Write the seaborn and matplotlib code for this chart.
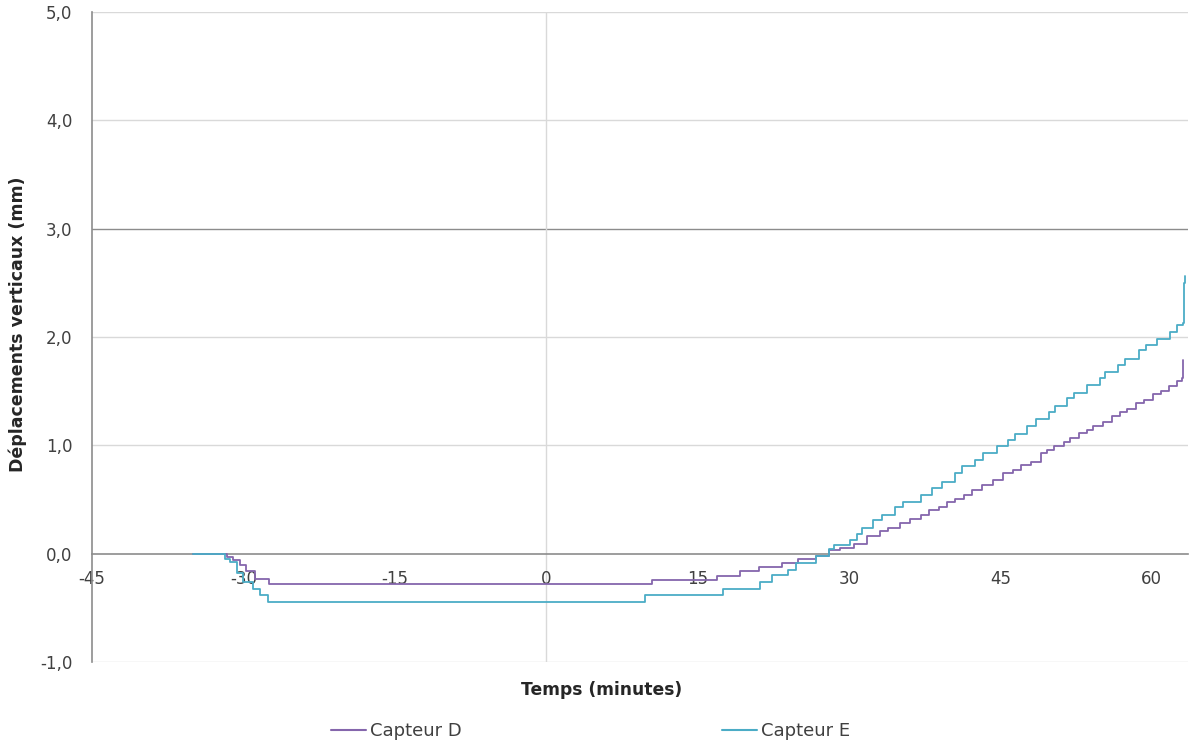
import matplotlib
matplotlib.use("Agg")
import matplotlib.pyplot as plt
from matplotlib.ticker import FuncFormatter, FixedLocator
import seaborn as sns
import pandas as pd

# ---- data ----
capteur_d_t = [-35, -31.6, -31.0, -30.3, -29.7, -28.8, -27.5, 10.5, 16.9, 19.2, 21.1, 23.4,
               25.0, 26.7, 28.0, 29.1, 30.5, 31.8, 33.1, 33.9, 35.1, 36.1, 37.1, 37.9, 38.9,
               39.7, 40.5, 41.4, 42.2, 43.2, 44.3, 45.3, 46.3, 47.1, 48.0, 49.0, 49.6, 50.3,
               51.3, 51.9, 52.8, 53.6, 54.2, 55.2, 56.1, 56.9, 57.6, 58.4, 59.2, 60.1, 60.9,
               61.7, 62.5, 63.0, 63.1]
capteur_d_v = [0.0, -0.03, -0.06, -0.10, -0.16, -0.23, -0.28, -0.245, -0.21, -0.16, -0.12, -0.085,
               -0.05, -0.02, 0.03, 0.055, 0.09, 0.16, 0.205, 0.235, 0.28, 0.32, 0.36, 0.405, 0.435,
               0.475, 0.505, 0.545, 0.59, 0.635, 0.68, 0.745, 0.775, 0.82, 0.85, 0.93, 0.96, 0.99,
               1.03, 1.07, 1.11, 1.145, 1.175, 1.22, 1.27, 1.31, 1.34, 1.39, 1.42, 1.47, 1.50,
               1.545, 1.59, 1.62, 1.79]

capteur_e_t = [-35, -31.8, -31.3, -30.6, -30.0, -29.0, -28.4, -27.6, 9.8, 17.5, 21.2, 22.4,
               24.0, 24.8, 26.7, 28.0, 28.5, 30.1, 30.8, 31.3, 32.4, 33.3, 34.6, 35.4, 37.1,
               38.2, 39.2, 40.5, 41.2, 42.5, 43.3, 44.7, 45.8, 46.5, 47.6, 48.5, 49.8, 50.4,
               51.6, 52.3, 53.6, 54.9, 55.4, 56.7, 57.4, 58.7, 59.4, 60.5, 61.8, 62.5, 63.1,
               63.2, 63.3]
capteur_e_v = [0.0, -0.05, -0.08, -0.18, -0.26, -0.33, -0.38, -0.45, -0.38, -0.325, -0.265, -0.20,
               -0.15, -0.085, -0.02, 0.045, 0.08, 0.13, 0.18, 0.24, 0.31, 0.36, 0.43, 0.48, 0.545,
               0.605, 0.665, 0.745, 0.805, 0.865, 0.93, 0.99, 1.045, 1.10, 1.175, 1.24, 1.305, 1.36,
               1.435, 1.485, 1.56, 1.62, 1.68, 1.745, 1.80, 1.88, 1.93, 1.98, 2.05, 2.11, 2.13,
               2.50, 2.56]

series_names = ["Capteur D", "Capteur E"]
x_ticks = [-45, -30, -15, 0, 15, 30, 45, 60]
y_ticks = [-1.0, 0.0, 1.0, 2.0, 3.0, 4.0, 5.0]

df = pd.concat([
    pd.DataFrame({"t": capteur_d_t, "v": capteur_d_v, "s": series_names[0]}),
    pd.DataFrame({"t": capteur_e_t, "v": capteur_e_v, "s": series_names[1]}),
], ignore_index=True)

sns.set_style("white")
plt.rcParams["font.family"] = ["DejaVu Sans"]

W, H = 1203, 744
fig = plt.figure(figsize=(W / 100, H / 100), dpi=100)
L, R, T, B = 92, 1188, 12, 662
ax = fig.add_axes([L / W, 1 - B / H, (R - L) / W, (B - T) / H])

palette = {"Capteur D": "#8566AC", "Capteur E": "#4BACC6"}

# grid
for y in [1.0, 2.0, 4.0, 5.0, -1.0]:
    ax.axhline(y, color="#D9D9D9", lw=1.0, zorder=0)
ax.axhline(3.0, color="#8C8C8C", lw=1.0, zorder=0)
ax.axvline(0, color="#D9D9D9", lw=1.0, zorder=0)

sns.lineplot(data=df, x="t", y="v", hue="s", palette=palette, estimator=None, sort=False,
             drawstyle="steps-post", lw=1.3, ax=ax, legend=False, zorder=3)

ax.set_xlim(-45, 63.6)
ax.set_ylim(-1.0, 5.0)

for side in ["top", "right"]:
    ax.spines[side].set_visible(False)
ax.spines["bottom"].set_position(("data", 0))
ax.spines["bottom"].set_color("#8C8C8C")
ax.spines["left"].set_color("#8C8C8C")
ax.spines["bottom"].set_linewidth(1.2)
ax.spines["left"].set_linewidth(1.2)
ax.spines["bottom"].set_zorder(2)

ax.xaxis.set_major_locator(FixedLocator(x_ticks))
ax.yaxis.set_major_locator(FixedLocator(y_ticks))
ax.yaxis.set_major_formatter(FuncFormatter(lambda v, p: f"{v:.1f}".replace(".", ",")))
ax.xaxis.set_major_formatter(FuncFormatter(lambda v, p: f"{int(v)}"))
ax.tick_params(axis="x", direction="out", length=4, width=1, color="#8C8C8C", pad=8,
               labelsize=12, labelcolor="#404040")
ax.tick_params(axis="y", length=0, pad=14, labelsize=12, labelcolor="#404040")
ax.set_xlabel("")
ax.set_ylabel("")

fig.text(0.5, 1 - 690 / H, "Temps (minutes)", ha="center", va="center",
         fontsize=12.3, fontweight="bold", color="#262626")
fig.text(18 / W, 1 - 324 / H, "Déplacements verticaux (mm)", ha="center", va="center",
         rotation=90, fontsize=12.5, fontweight="bold", color="#262626")

handles = [plt.Line2D([], [], color=palette[n], lw=1.5) for n in series_names]
fig.legend(handles, series_names, loc="center", bbox_to_anchor=(0.5 - 11 / W, 1 - 731 / H), ncol=2,
           frameon=False, fontsize=13, handlelength=1.95, handletextpad=0.22,
           columnspacing=14.4, labelcolor="#404040")

fig.savefig("out.png", dpi=100)
